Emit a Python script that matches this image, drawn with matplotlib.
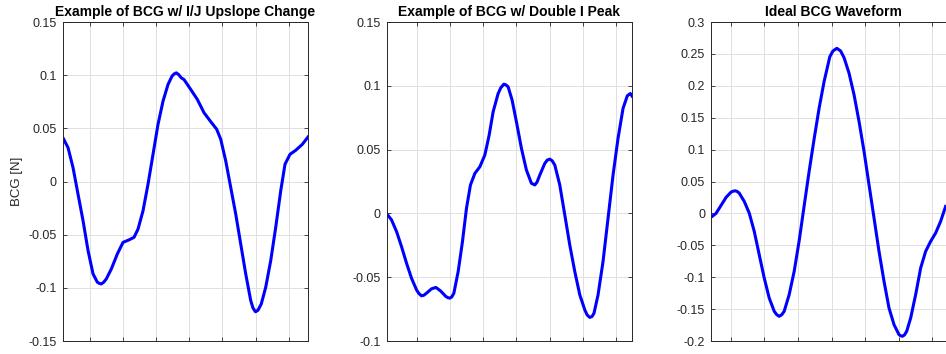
import matplotlib
matplotlib.use("Agg")
import matplotlib.pyplot as plt
import numpy as np

plt.rcParams['font.family'] = ['Liberation Sans', 'DejaVu Sans']

# waveform 1: I/J upslope change
t1 = [0.169, 0.335, 0.486, 0.637, 0.789, 0.940, 1.091, 1.221, 1.280, 1.341, 1.410, 1.492,
      1.644, 1.825, 1.997, 2.169, 2.329, 2.450, 2.601, 2.752, 2.903, 3.054,
      3.205, 3.356, 3.477, 3.540, 3.607, 3.680, 3.758, 3.840, 4.042, 4.242, 4.444, 4.647,
      4.828, 4.949, 5.100, 5.251, 5.402, 5.553, 5.704, 5.855, 5.924, 5.999, 6.076,
      6.175, 6.308, 6.459, 6.610, 6.761, 6.891, 7.042, 7.215, 7.414, 7.586]
bcg1 = [0.0419, 0.0319, 0.0131, -0.0119, -0.0369, -0.065, -0.0869, -0.0947, -0.0958, -0.0963, -0.0948, -0.0916,
        -0.0822, -0.0681, -0.0572, -0.055, -0.0525, -0.0447, -0.0275, -0.0025, 0.0256, 0.0538,
        0.0756, 0.0913, 0.0991, 0.1012, 0.1022, 0.1005, 0.0975, 0.0959, 0.0866, 0.0772, 0.0647, 0.0563,
        0.0491, 0.0397, 0.0194, -0.0056, -0.0306, -0.0588, -0.0869, -0.112, -0.119, -0.1225, -0.121,
        -0.115, -0.0994, -0.0744, -0.0431, -0.0088, 0.0163, 0.0256, 0.0294, 0.035, 0.0419]

# waveform 2: double I peak
t2 = [0.084, 0.235, 0.386, 0.536, 0.687, 0.837, 0.988, 1.060, 1.139, 1.210, 1.289, 1.440,
      1.572, 1.711, 1.873, 1.930, 1.994, 2.050, 2.114, 2.244, 2.373, 2.494, 2.614, 2.747,
      2.898, 3.048, 3.178, 3.298, 3.449, 3.530, 3.620, 3.680, 3.750, 3.870, 4.000, 4.151,
      4.301, 4.452, 4.554, 4.620, 4.705, 4.855, 4.930, 5.006, 5.080, 5.157, 5.307, 5.458, 5.608,
      5.759, 5.910, 6.060, 6.130, 6.211, 6.280, 6.340, 6.461, 6.611, 6.762, 6.913, 7.063,
      7.214, 7.343, 7.434, 7.485]
bcg2 = [0.0, -0.0051, -0.0142, -0.026, -0.039, -0.0508, -0.0599, -0.0628, -0.0646, -0.0641, -0.0625, -0.0591,
        -0.058, -0.0607, -0.0651, -0.066, -0.0664, -0.0655, -0.0625, -0.0455, -0.0221, 0.004, 0.0223, 0.0314,
        0.0366, 0.0458, 0.0614, 0.0797, 0.094, 0.0985, 0.1013, 0.1008, 0.0992, 0.0888, 0.0718, 0.051,
        0.034, 0.0236, 0.0223, 0.0245, 0.0301, 0.0392, 0.0418, 0.0426, 0.0412, 0.0379, 0.0223, -0.0012, -0.0247,
        -0.0455, -0.0638, -0.0755, -0.0795, -0.0815, -0.0808, -0.0781, -0.0638, -0.0377, -0.0038, 0.0301, 0.0588,
        0.0823, 0.0922, 0.094, 0.092]

# waveform 3: ideal BCG
t3 = [0.406, 0.563, 0.712, 0.860, 1.009, 1.070, 1.137, 1.200, 1.255, 1.404, 1.552, 1.701,
      1.849, 1.998, 2.146, 2.295, 2.370, 2.443, 2.520, 2.592, 2.740, 2.889, 3.037, 3.186,
      3.334, 3.483, 3.631, 3.780, 3.949, 4.040, 4.157, 4.270, 4.374, 4.522, 4.671,
      4.819, 4.968, 5.116, 5.265, 5.413, 5.562, 5.710, 5.859, 6.007, 6.060, 6.108, 6.170,
      6.236, 6.355, 6.503, 6.652, 6.800, 6.949, 7.097, 7.246, 7.394]
bcg3 = [-0.0063, 0.0, 0.0125, 0.025, 0.0334, 0.0348, 0.0355, 0.0342, 0.0318, 0.0188, 0.0005, -0.0282,
        -0.0647, -0.1013, -0.1326, -0.1534, -0.1587, -0.1613, -0.1587, -0.1534, -0.1273, -0.0908, -0.043, 0.012,
        0.066, 0.117, 0.165, 0.207, 0.2456, 0.2545, 0.2588, 0.2548, 0.244, 0.2197, 0.1858,
        0.144, 0.0971, 0.0449, -0.0073, -0.0595, -0.1065, -0.1482, -0.1743, -0.19, -0.1918, -0.1926, -0.1905,
        -0.1848, -0.1639, -0.1273, -0.0856, -0.0595, -0.0438, -0.0308, -0.0125, 0.011]

titles = ['Example of BCG w/ I/J Upslope Change',
          'Example of BCG w/ Double I Peak',
          'Ideal BCG Waveform']
xlims = [(0.169, 7.586), (0.084, 7.485), (0.406, 7.71)]
ylims = [(-0.15, 0.15), (-0.1, 0.15), (-0.2, 0.3)]
lefts = [0.0661, 0.4086, 0.7513]


def fmt(v):
    s = ('%.2f' % v).rstrip('0').rstrip('.')
    return '0' if s in ('-0', '0') else s


fig = plt.figure(figsize=(9.46, 3.54), dpi=100)
edge = '#262626'
for i, (t, y) in enumerate([(t1, bcg1), (t2, bcg2), (t3, bcg3)]):
    ax = fig.add_axes([lefts[i], 0.0367, 0.2595, 0.901])
    ax.plot(t, y, color=(0, 0, 1), lw=2.2, solid_joinstyle='round')
    ax.set_xlim(*xlims[i])
    ax.set_ylim(*ylims[i])
    ax.set_xticks(np.arange(1, 8))
    ax.set_xticklabels([])
    yt = np.round(np.arange(ylims[i][0], ylims[i][1] + 1e-9, 0.05), 2)
    ax.set_yticks(yt)
    ax.set_yticklabels([fmt(v) for v in yt])
    ax.grid(True, color='#e0e0e0', lw=0.7)
    ax.set_axisbelow(True)
    ax.tick_params(direction='in', length=3, width=0.6, colors=edge,
                   labelsize=9, top=True, right=True, pad=4)
    for sp in ax.spines.values():
        sp.set_color(edge)
        sp.set_linewidth(0.7)
    ax.set_title(titles[i], fontsize=10, fontweight='bold', pad=4)
    if i == 0:
        ax.set_ylabel('BCG [N]', fontsize=9.5, color=edge, labelpad=4)

fig.savefig('out.png', dpi=100)
